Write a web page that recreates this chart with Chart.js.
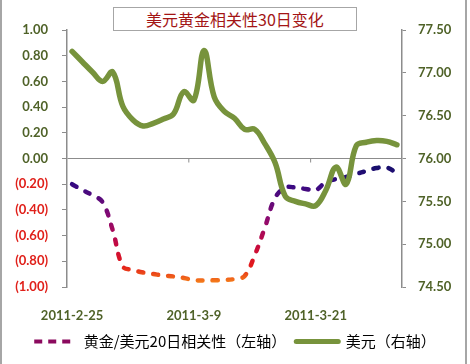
<!DOCTYPE html>
<html lang="zh">
  <head>
    <meta charset="UTF-8" />
    <script src="https://cdn.jsdelivr.net/npm/chart.js"></script>
    <title>美元黄金相关性30日变化</title>
    <style>
      body { margin: 0; background: #fff; }
      #wrap { position: relative; width: 470px; height: 364px; }
      #wrap canvas { position: absolute; left: 0; top: 0; }
      .edge { position: absolute; top: 0; width: 2px; height: 364px; background: #a6a6a6; }
      #title {
        position: absolute; left: 113px; top: 7px; width: 242px; height: 22px;
        border: 1px solid #a6a6a6; background: #fff;
        font: 16px "Noto Sans CJK SC", sans-serif; line-height: 22px;
        color: #a31515; text-align: center;
      }
    </style>
  </head>
  <body>
    <div id="wrap">
      <canvas id="chart" width="470" height="364"></canvas>
      <div class="edge" style="left:0"></div>
      <div class="edge" style="left:465px"></div>
      <div id="title">美元黄金相关性30日变化</div>
    </div>

    <script>
      // daily, 2011-2-25 .. 2011-3-29
      const dates = [
        '2011-2-25', '2011-2-26', '2011-2-27', '2011-2-28', '2011-3-1', '2011-3-2', '2011-3-3',
        '2011-3-4', '2011-3-5', '2011-3-6', '2011-3-7', '2011-3-8', '2011-3-9', '2011-3-10',
        '2011-3-11', '2011-3-12', '2011-3-13', '2011-3-14', '2011-3-15', '2011-3-16', '2011-3-17',
        '2011-3-18', '2011-3-19', '2011-3-20', '2011-3-21', '2011-3-22', '2011-3-23', '2011-3-24',
        '2011-3-25', '2011-3-26', '2011-3-27', '2011-3-28', '2011-3-29',
      ]
      // 黄金/美元20日相关性 (left axis)
      const corr = [
        -0.20, -0.245, -0.285, -0.34, -0.556, -0.84, -0.868, -0.887, -0.899, -0.911, -0.918,
        -0.93, -0.946, -0.95, -0.948, -0.946, -0.938, -0.914, -0.751, -0.535, -0.307, -0.226,
        -0.226, -0.237, -0.245, -0.183, -0.16, -0.144, -0.12, -0.097, -0.074, -0.07, -0.113,
      ]
      // 美元 (right axis)
      const usd = [
        77.25, 77.13, 77.01, 76.9, 77.01, 76.61, 76.45, 76.38, 76.41, 76.46, 76.52,
        76.78, 76.68, 77.26, 76.72, 76.55, 76.47, 76.34, 76.34, 76.17, 75.95, 75.56,
        75.5, 75.47, 75.45, 75.63, 75.9, 75.7, 76.15, 76.19, 76.21, 76.2, 76.16,
      ]
      const labelEvery = 12

      const olive = '#4f6228'
      const axisGray = '#8c8c8c'
      const tickFont = { family: 'Lato, "Liberation Sans", sans-serif', size: 13, weight: 'bold' }

      // dashed series changes colour with depth (navy -> magenta -> red -> orange)
      const corrColor = (c) => {
        const { chart } = c
        if (!chart.chartArea) return '#5a0a80'
        const y = chart.scales.y
        const g = chart.ctx.createLinearGradient(0, y.getPixelForValue(-0.05), 0, y.getPixelForValue(-0.96))
        g.addColorStop(0, '#14106a')
        g.addColorStop(0.17, '#360a82')
        g.addColorStop(0.45, '#8a0a72')
        g.addColorStop(0.68, '#c40a42')
        g.addColorStop(0.86, '#e31a1a')
        g.addColorStop(1, '#f47a1a')
        return g
      }

      // small tick marks hanging from the zero line between label groups
      const zeroTicks = {
        id: 'zeroTicks',
        beforeDatasetsDraw(chart) {
          const { ctx, scales: { x, y } } = chart
          const y0 = y.getPixelForValue(0)
          ctx.save()
          ctx.strokeStyle = axisGray
          ctx.lineWidth = 1
          for (let i = labelEvery; i < dates.length; i += labelEvery) {
            const px = (x.getPixelForValue(i - 1) + x.getPixelForValue(i)) / 2
            ctx.beginPath()
            ctx.moveTo(px, y0)
            ctx.lineTo(px, y0 + 4)
            ctx.stroke()
          }
          ctx.restore()
        },
      }

      new Chart(document.getElementById('chart'), {
        type: 'line',
        data: {
          labels: dates,
          datasets: [
            {
              label: '黄金/美元20日相关性（左轴）',
              data: corr,
              yAxisID: 'y',
              borderColor: corrColor,
              borderWidth: 4.5,
              borderDash: [5, 10],
              borderCapStyle: 'round',
              pointRadius: 0,
              tension: 0.4,
              order: 1,
            },
            {
              label: '美元（右轴）',
              data: usd,
              yAxisID: 'y1',
              borderColor: '#77933c',
              borderWidth: 5.5,
              borderCapStyle: 'round',
              pointRadius: 0,
              tension: 0.4,
              order: 0,
            },
          ],
        },
        plugins: [zeroTicks],
        options: {
          responsive: false,
          animation: false,
          devicePixelRatio: 1,
          layout: { padding: { top: 30, bottom: 5, left: 0, right: 0 } },
          scales: {
            x: {
              offset: true,
              grid: { display: false },
              border: { display: false },
              afterFit: (s) => { s.height = 37 },
              ticks: {
                autoSkip: false,
                maxRotation: 0,
                padding: 13,
                color: olive,
                font: tickFont,
                callback: function (v, i) {
                  return i % labelEvery === 0 ? this.getLabelForValue(v) : ''
                },
              },
            },
            y: {
              position: 'left',
              min: -1,
              max: 1,
              afterFit: (s) => { s.width = 67 },
              border: { color: axisGray, width: 1.5 },
              grid: {
                color: (c) => (c.tick && Math.abs(c.tick.value) < 1e-9 ? axisGray : 'rgba(0,0,0,0)'),
                tickColor: axisGray,
                tickLength: 5,
              },
              ticks: {
                stepSize: 0.2,
                padding: 14,
                font: tickFont,
                color: (c) => (c.tick.value < -1e-9 ? '#e0201a' : olive),
                callback: (v) => (v < -1e-9 ? '(' + (-v).toFixed(2) + ')' : Math.abs(v).toFixed(2)),
              },
            },
            y1: {
              position: 'right',
              min: 74.5,
              max: 77.5,
              afterFit: (s) => { s.width = 68 },
              border: { color: axisGray, width: 1.5 },
              grid: { drawOnChartArea: false, tickColor: axisGray, tickLength: 4 },
              ticks: {
                stepSize: 0.5,
                padding: 12,
                font: tickFont,
                color: olive,
                callback: (v) => v.toFixed(2),
              },
            },
          },
          plugins: {
            title: { display: false },
            tooltip: { enabled: false },
            legend: {
              position: 'bottom',
              labels: {
                usePointStyle: true,
                pointStyleWidth: 42,
                padding: 10,
                color: '#404040',
                font: { family: '"Noto Sans CJK SC", sans-serif', size: 15 },
                generateLabels: (chart) => [
                  {
                    text: chart.data.datasets[0].label,
                    pointStyle: 'line',
                    strokeStyle: '#8b0a5e',
                    fillStyle: '#8b0a5e',
                    lineWidth: 4,
                    lineDash: [8, 6],
                    datasetIndex: 0,
                  },
                  {
                    text: chart.data.datasets[1].label,
                    pointStyle: 'line',
                    strokeStyle: '#77933c',
                    fillStyle: '#77933c',
                    lineWidth: 5,
                    lineCap: 'round',
                    datasetIndex: 1,
                  },
                ],
              },
            },
          },
        },
      })
    </script>
  </body>
</html>
